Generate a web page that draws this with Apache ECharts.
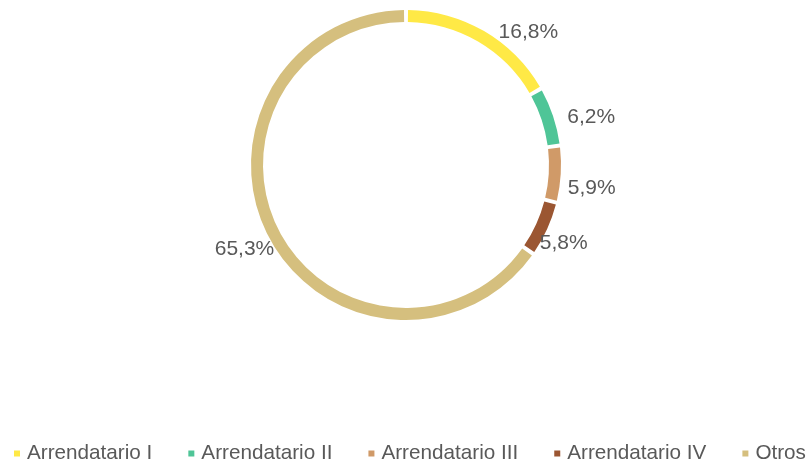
<!DOCTYPE html>
<html>
<head>
<meta charset="utf-8">
<script src="https://cdn.jsdelivr.net/npm/echarts@6/dist/echarts.min.js"></script>
<style>
  html, body { margin: 0; padding: 0; background: #fff; }
  #chart { width: 811px; height: 462px; }
</style>
</head>
<body>
<div id="chart"></div>
<script>
const categories = ['Arrendatario I', 'Arrendatario II', 'Arrendatario III', 'Arrendatario IV', 'Otros']
const shares = [16.8, 6.2, 5.9, 5.8, 65.3]
const colors = ['#FFE946', '#4FC597', '#D09A68', '#9B5632', '#D5BF7E']

// small nudges so labels sit where Excel put them
const labelNudge = [[2, 14], [-5, 6], [-13, 13], [-26, 8], [24, 6]]

const font = "'Liberation Sans', Arial, sans-serif"

const option = {
  animation: false,
  color: colors,
  legend: {
    left: 14,
    top: 443,
    width: 797,
    padding: 0,
    icon: 'rect',
    itemWidth: 6,
    itemHeight: 6,
    itemGap: 36,
    textStyle: {
      fontFamily: font,
      fontSize: 20.7,
      color: '#595959',
      padding: [0, 0, 0, 2]
    },
    data: categories
  },
  series: [
    {
      type: 'pie',
      center: [406, 165],
      radius: [143, 155],
      startAngle: 90,
      padAngle: 1.5,
      avoidLabelOverlap: false,
      label: {
        show: true,
        position: 'outside',
        fontFamily: font,
        fontSize: 21,
        color: '#595959',
        formatter: p => p.value.toFixed(1).replace('.', ',') + '%'
      },
      labelLine: { show: false, length: 15, length2: 0 },
      labelLayout: p => ({ dx: labelNudge[p.dataIndex][0], dy: labelNudge[p.dataIndex][1] }),
      emphasis: { disabled: true },
      data: categories.map((name, i) => ({ name: name, value: shares[i] }))
    }
  ]
}

const chart = echarts.init(document.getElementById('chart'))
chart.setOption(option)
</script>
</body>
</html>
